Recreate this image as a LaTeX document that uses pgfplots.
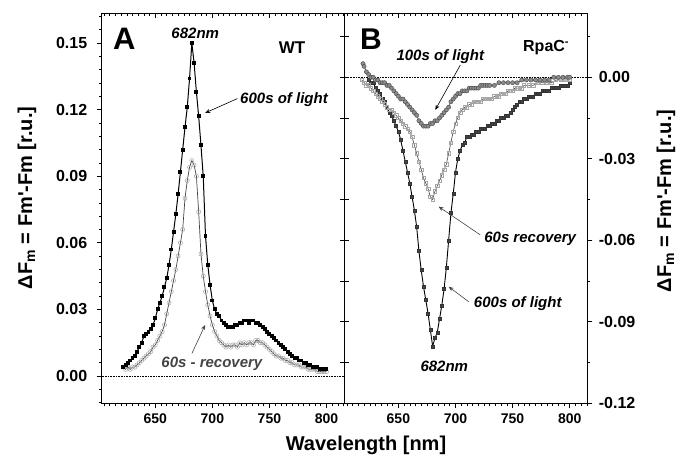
\documentclass[border=0pt]{standalone}
\usepackage{fontspec}
\setmainfont{Liberation Sans}
\usepackage{pgfplots}
\usepackage{pgfplotstable}
\pgfplotsset{compat=1.18}
\usetikzlibrary{arrows.meta}

\pgfplotstableread{
x y
622 0.004
624 0.005
626 0.006
628 0.007
630 0.008
632 0.009
634 0.011
636 0.013
638 0.015
640 0.018
642 0.019
644 0.020
646 0.021
648 0.023
650 0.026
652 0.030
654 0.033
656 0.036
658 0.040
660 0.044
662 0.050
664 0.057
666 0.065
668 0.073
670 0.082
672 0.092
674 0.102
676 0.112
678 0.121
680 0.134
682 0.150
684 0.141
686 0.128
688 0.117
690 0.104
692 0.090
694 0.063
696 0.050
698 0.041
700 0.034
702 0.030
704 0.028
706 0.027
708 0.025
710 0.024
712 0.023
714 0.022
716 0.022
718 0.022
720 0.023
722 0.023
724 0.024
726 0.024
728 0.025
730 0.025
732 0.024
734 0.025
736 0.025
738 0.024
740 0.024
742 0.023
744 0.022
746 0.021
748 0.020
750 0.019
752 0.018
754 0.017
756 0.016
758 0.015
760 0.014
762 0.013
764 0.012
766 0.011
768 0.010
770 0.009
772 0.008
774 0.008
776 0.007
778 0.007
780 0.006
782 0.006
784 0.005
786 0.005
788 0.004
790 0.004
792 0.004
794 0.003
796 0.003
798 0.003
800 0.003
}\tblAblack

\pgfplotstableread{
x y
622 0.004
624 0.003
626 0.004
628 0.003
630 0.004
632 0.004
634 0.005
636 0.006
638 0.007
640 0.008
642 0.009
644 0.010
646 0.011
648 0.013
650 0.014
652 0.016
654 0.018
656 0.020
658 0.023
660 0.028
662 0.033
664 0.038
666 0.043
668 0.048
670 0.054
672 0.060
674 0.066
676 0.080
678 0.088
680 0.094
682 0.097
684 0.095
686 0.090
688 0.074
690 0.055
692 0.045
694 0.038
696 0.032
698 0.027
700 0.023
702 0.020
704 0.018
706 0.016
708 0.015
710 0.014
712 0.013
714 0.014
716 0.013
718 0.014
720 0.014
722 0.013
724 0.015
726 0.014
728 0.015
730 0.014
732 0.015
734 0.015
736 0.014
738 0.016
740 0.016
742 0.015
744 0.015
746 0.014
748 0.013
750 0.012
752 0.011
754 0.010
756 0.009
758 0.009
760 0.008
762 0.008
764 0.007
766 0.007
768 0.006
770 0.006
772 0.005
774 0.005
776 0.005
778 0.004
780 0.004
782 0.004
784 0.003
786 0.003
788 0.003
790 0.003
792 0.002
794 0.002
796 0.002
798 0.002
800 0.002
}\tblAcirc

\pgfplotstableread{
x y
624 -0.001
626 -0.002
628 -0.002
630 -0.004
632 -0.005
634 -0.006
636 -0.008
638 -0.009
640 -0.011
642 -0.013
644 -0.014
646 -0.016
648 -0.018
650 -0.020
652 -0.023
654 -0.027
656 -0.031
658 -0.035
660 -0.039
662 -0.044
664 -0.049
666 -0.055
668 -0.064
670 -0.071
672 -0.077
674 -0.082
676 -0.087
678 -0.093
680 -0.099
682 -0.096
684 -0.094
686 -0.089
688 -0.084
690 -0.078
692 -0.070
694 -0.060
696 -0.050
698 -0.043
700 -0.035
702 -0.030
704 -0.027
706 -0.025
708 -0.024
710 -0.022
712 -0.022
714 -0.021
716 -0.021
718 -0.020
720 -0.020
722 -0.019
724 -0.019
726 -0.019
728 -0.018
730 -0.018
732 -0.017
734 -0.017
736 -0.016
738 -0.016
740 -0.015
742 -0.015
744 -0.014
746 -0.014
748 -0.013
750 -0.012
752 -0.011
754 -0.010
756 -0.009
758 -0.009
760 -0.008
762 -0.008
764 -0.007
766 -0.007
768 -0.007
770 -0.006
772 -0.006
774 -0.006
776 -0.005
778 -0.005
780 -0.005
782 -0.005
784 -0.004
786 -0.004
788 -0.004
790 -0.004
792 -0.003
794 -0.003
796 -0.003
798 -0.003
800 -0.002
}\tblBblack

\pgfplotstableread{
x y
618 -0.001
620 -0.002
622 -0.003
624 -0.003
626 -0.004
628 -0.005
630 -0.006
632 -0.007
634 -0.008
636 -0.009
638 -0.010
640 -0.011
642 -0.012
644 -0.012
646 -0.013
648 -0.014
650 -0.015
652 -0.016
654 -0.017
656 -0.018
658 -0.019
660 -0.020
662 -0.022
664 -0.025
666 -0.028
668 -0.031
670 -0.034
672 -0.037
674 -0.039
676 -0.041
678 -0.044
680 -0.045
682 -0.042
684 -0.040
686 -0.038
688 -0.036
690 -0.034
692 -0.032
694 -0.028
696 -0.024
698 -0.020
700 -0.017
702 -0.015
704 -0.013
706 -0.012
708 -0.011
710 -0.011
712 -0.010
714 -0.010
716 -0.009
718 -0.009
720 -0.009
722 -0.009
724 -0.008
726 -0.008
728 -0.008
730 -0.008
732 -0.008
734 -0.007
736 -0.007
738 -0.007
740 -0.006
742 -0.006
744 -0.006
746 -0.005
748 -0.005
750 -0.005
752 -0.004
754 -0.004
756 -0.004
758 -0.004
760 -0.003
764 -0.003
768 -0.003
772 -0.002
776 -0.002
780 -0.002
784 -0.002
788 -0.001
792 -0.001
796 -0.001
800 -0.001
}\tblBsq

\pgfplotstableread{
x y
619 0.005
620 0.004
622 0.002
624 0.001
626 0.000
628 0.000
630 -0.001
632 -0.001
634 -0.002
636 -0.002
638 -0.002
640 -0.003
642 -0.003
644 -0.004
646 -0.005
648 -0.006
650 -0.007
652 -0.008
654 -0.008
656 -0.009
658 -0.010
660 -0.011
662 -0.012
664 -0.013
666 -0.014
668 -0.016
670 -0.017
672 -0.018
674 -0.018
676 -0.018
678 -0.017
680 -0.017
682 -0.016
684 -0.016
686 -0.015
688 -0.014
690 -0.013
692 -0.012
694 -0.011
696 -0.009
698 -0.008
700 -0.007
702 -0.006
704 -0.006
706 -0.005
708 -0.005
710 -0.005
712 -0.004
714 -0.004
716 -0.004
718 -0.004
720 -0.004
722 -0.003
724 -0.003
726 -0.003
728 -0.003
730 -0.003
734 -0.003
738 -0.002
742 -0.002
746 -0.002
750 -0.002
754 -0.002
758 -0.001
762 -0.001
766 -0.001
770 -0.001
774 -0.001
778 -0.001
782 -0.001
786 0.000
790 0.000
794 0.000
798 0.000
800 0.000
}\tblBcirc

\definecolor{dg}{HTML}{444444}
\definecolor{mg}{HTML}{8C8C8C}
\tikzset{annot/.style={font=\fontsize{15}{15}\selectfont\bfseries\itshape}}

\begin{document}
\begin{tikzpicture}
\useasboundingbox (0pt,0pt) rectangle (686pt,457pt);
\pgfplotsset{
  common/.style={scale only axis, height=390pt, anchor=south west,
    xmin=603, xmax=816,
    major tick length=5pt, minor tick length=3pt,
    every tick/.style={black, line width=0.8pt},
    every minor tick/.style={black, line width=0.6pt},
    axis line style={line width=1.3pt},
    xtick={650,700,750,800}, minor xtick={605,610,...,815},
  },
  main/.style={common, xtick pos=left, tick align=outside,
    xticklabels={650,700,750,800},
    xticklabel style={font=\fontsize{14}{14}\selectfont\bfseries, yshift=-2pt},
  },
  blank/.style={xticklabel style={opacity=0}, yticklabel style={opacity=0}},
  topticks/.style={common, blank, xtick pos=right, tick align=inside, ytick=\empty},
}
% ---------- Panel A ----------
\begin{axis}[main, width=243pt, at={(101.7pt,53.7pt)},
  ymin=-0.0123, ymax=0.1634,
  ytick={0,0.03,0.06,0.09,0.12,0.15},
  yticklabels={0.00,0.03,0.06,0.09,0.12,0.15},
  yticklabel style={font=\fontsize{16}{16}\selectfont\bfseries, xshift=-6pt},
  minor ytick={-0.012,-0.006,0.006,0.012,0.018,0.024,0.036,0.042,0.048,0.054,0.066,0.072,0.078,0.084,0.096,0.102,0.108,0.114,0.126,0.132,0.138,0.144,0.156,0.162},
  ytick pos=left]
\addplot[black, densely dotted, line width=0.6pt] coordinates {(603,0) (816,0)};
\addplot[dg, line width=0.7pt, mark=o, mark size=2.1pt, mark options={solid, draw=gray!70, line width=0.5pt}] table {\tblAcirc};
\addplot[black, line width=1pt, mark=square*, mark size=1.45pt, mark options={solid, fill=black}] table {\tblAblack};
\node[font=\fontsize{31}{31}\selectfont\bfseries] at (axis cs:622.9,0.152) {A};
\node[annot] at (axis cs:685,0.1545) {682nm};
\node[font=\fontsize{17}{17}\selectfont\bfseries] at (axis cs:769.8,0.148) {WT};
\node[annot] at (axis cs:762.8,0.1243) {600s of light};
\draw[line width=0.6pt, -{Stealth[length=5pt,width=4pt]}] (axis cs:722,0.1250) -- (axis cs:693.7,0.1185);
\node[annot, text=dg] at (axis cs:699.6,0.0057) {60s - recovery};
\draw[line width=0.6pt, dg, -{Stealth[length=5pt,width=4pt]}] (axis cs:682.1,0.0102) -- (axis cs:693.7,0.0230);
\end{axis}
\begin{axis}[topticks, width=243pt, at={(101.7pt,53.7pt)}, ymin=-0.0123, ymax=0.1634]
\end{axis}
% ---------- Panel B ----------
\begin{axis}[main, width=242.6pt, at={(344.7pt,53.7pt)}, xmax=815.4,
  ymin=-0.12, ymax=0.02355,
  ytick={-0.12,-0.09,-0.06,-0.03,0},
  yticklabels={-0.12,-0.09,-0.06,-0.03,0.00},
  yticklabel style={font=\fontsize{16}{16}\selectfont\bfseries, xshift=3pt},
  minor ytick={-0.105,-0.075,-0.045,-0.015,0.015},
  ytick pos=right]
\addplot[black, densely dotted, line width=0.6pt] coordinates {(603,0) (816,0)};
\addplot[black, line width=0.9pt, mark=square*, mark size=1.5pt, mark options={solid, fill=dg, draw=black!80, line width=0.4pt}] table {\tblBblack};
\addplot[dg, line width=0.6pt, mark=square, mark size=1.7pt, mark options={solid, draw=gray!70, line width=0.5pt}] table {\tblBsq};
\addplot[black!80, line width=0.6pt, mark=*, mark size=2.1pt, mark options={solid, fill=mg, draw=dg, line width=0.4pt}] table {\tblBcirc};
\node[font=\fontsize{30}{30}\selectfont\bfseries] at (axis cs:626,0.0141) {B};
\node[font=\fontsize{16}{16}\selectfont\bfseries] at (axis cs:779.4,0.0108) {RpaC\textsuperscript{-}};
\node[annot] at (axis cs:686.7,0.0075) {100s of light};
\draw[line width=0.6pt, -{Stealth[length=5pt,width=4pt]}] (axis cs:704.2,0.0045) -- (axis cs:682.3,-0.0120);
\node[annot] at (axis cs:765.4,-0.0593) {60s recovery};
\draw[line width=0.6pt, dg, -{Stealth[length=5pt,width=4pt]}] (axis cs:721.7,-0.058) -- (axis cs:685.2,-0.0476);
\node[annot] at (axis cs:754.5,-0.0833) {600s of light};
\draw[line width=0.6pt, dg, -{Stealth[length=5pt,width=4pt]}] (axis cs:711.5,-0.0826) -- (axis cs:694.0,-0.0771);
\node[annot] at (axis cs:690.2,-0.1064) {682nm};
\end{axis}
\begin{axis}[topticks, width=242.6pt, at={(344.7pt,53.7pt)}, xmax=815.4, ymin=-0.12, ymax=0.02355]
\end{axis}
\begin{axis}[common, blank, width=242.6pt, at={(344.7pt,53.7pt)}, xmax=815.4, ymin=-0.12, ymax=0.02355,
  xtick=\empty, minor xtick={}, ytick={-0.105,-0.09,-0.075,-0.06,-0.045,-0.03,-0.015,0,0.015},
  ytick pos=left, tick align=center, major tick length=9pt]
\end{axis}
% ---------- Labels ----------
\node[rotate=90, anchor=base, font=\fontsize{20}{20}\selectfont\bfseries] at (32pt,259pt) {ΔF\textsubscript{m} = Fm\textquotesingle-Fm [r.u.]};
\node[rotate=90, anchor=base, font=\fontsize{20}{20}\selectfont\bfseries] at (671pt,256pt) {ΔF\textsubscript{m} = Fm\textquotesingle-Fm [r.u.]};
\node[anchor=base, font=\fontsize{20}{20}\selectfont\bfseries] at (366pt,6pt) {Wavelength [nm]};
\end{tikzpicture}
\end{document}
